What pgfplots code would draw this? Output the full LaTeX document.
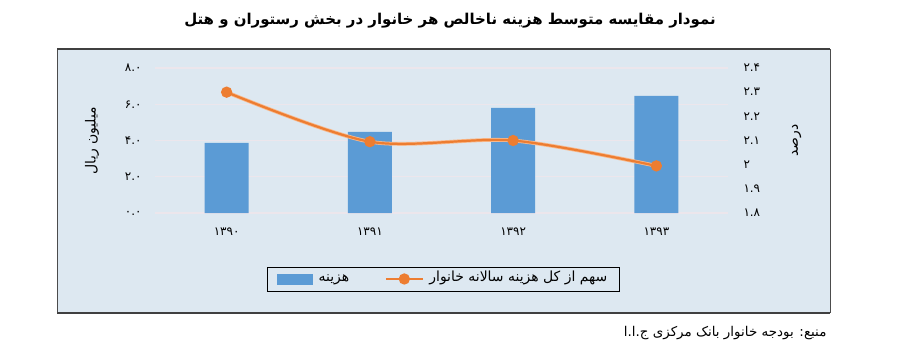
\documentclass[border=0pt]{standalone}
\usepackage{pgfplots}
\pgfplotsset{compat=1.18}
\usepackage{fontspec}
\setmainfont{DejaVu Sans}
\TeXXeTstate=1
\newfontfamily\arabicfont[Script=Arabic]{DejaVu Sans}
\definecolor{panel}{RGB}{221,232,241}
\definecolor{barblue}{RGB}{91,155,213}
\definecolor{lineor}{RGB}{237,125,49}
\definecolor{lineorl}{RGB}{248,185,140}
\definecolor{gridc}{RGB}{236,230,236}
\pgfplotsset{mylinelegend/.style={legend image code/.code={\draw[mark repeat=2,mark phase=2,##1] plot coordinates {(0bp,0bp)(18bp,0bp)(36bp,0bp)};}}}
\begin{document}
\begin{tikzpicture}
\path[use as bounding box] (0bp,0bp) rectangle (900bp,-351bp);
\fill[panel] (57bp,-49bp) rectangle (830bp,-313bp);
\draw[black!70, line width=0.8bp] (57bp,-49bp) -- (57bp,-313bp);
\draw[black!70, line width=0.8bp] (830bp,-49bp) -- (830bp,-313bp);
\draw[black!75, line width=1.5bp] (57bp,-49bp) -- (830bp,-49bp);
\draw[black!75, line width=1.5bp] (57bp,-313bp) -- (830bp,-313bp);
\node[font=\arabicfont\bfseries\fontsize{15}{17}\selectfont] at (450bp,-21bp) {\beginR نمودار مقایسه متوسط هزینه ناخالص هر خانوار در بخش رستوران و هتل\endR};
\node[anchor=east, font=\arabicfont\fontsize{13.5}{15}\selectfont] at (830bp,-333bp) {\beginR منبع: بودجه خانوار بانک مرکزی ج.ا.ا\endR};
\begin{axis}[
  at={(155bp,-213bp)}, anchor=south west,
  scale only axis, width=573bp, height=145bp,
  xmin=-0.5, xmax=3.5, ymin=0, ymax=8,
  axis line style={draw=none},
  ytick={0,2,4,6,8}, yticklabels={۰.۰,۲.۰,۴.۰,۶.۰,۸.۰},
  xtick={0,1,2,3}, xticklabels={۱۳۹۰,۱۳۹۱,۱۳۹۲,۱۳۹۳},
  major tick length=0pt,
  ymajorgrids, grid style={gridc, line width=1.2bp},
  ticklabel style={font=\arabicfont\fontsize{12}{14}\selectfont},
  yticklabel style={xshift=-10bp},
  xticklabel style={yshift=-11bp},
  ylabel={\beginR میلیون ریال\endR},
  ylabel style={at={(axis description cs:-0.11,0.5)}, anchor=center, font=\arabicfont\fontsize{14}{16}\selectfont},
  ybar, bar width=44bp,
]
\addplot[fill=barblue, draw=none] coordinates {(0,3.87)(1,4.47)(2,5.80)(3,6.46)};
\end{axis}
\begin{axis}[
  at={(155bp,-213bp)}, anchor=south west,
  scale only axis, width=573bp, height=145bp,
  xmin=-0.5, xmax=3.5, ymin=1.8, ymax=2.4,
  axis line style={draw=none},
  yticklabel pos=right,
  ytick={1.8,1.9,2.0,2.1,2.2,2.3,2.4}, yticklabels={۱.۸,۱.۹,۲,۲.۱,۲.۲,۲.۳,۲.۴},
  xtick=\empty,
  major tick length=0pt,
  ticklabel style={font=\arabicfont\fontsize{12}{14}\selectfont},
  yticklabel style={xshift=12bp},
  ylabel={\beginR درصد\endR},
  ylabel style={at={(axis description cs:1.12,0.5)}, anchor=center, font=\arabicfont\fontsize{14}{16}\selectfont},
  legend columns=2,
  legend style={at={(0.503,-0.455)}, anchor=center, draw=black, fill=panel, font=\arabicfont\fontsize{14}{16}\selectfont, inner xsep=10bp, inner ysep=3bp,
    nodes={text height=10bp, text depth=4bp},
    /tikz/every odd column/.append style={column sep=4bp},
    /tikz/every even column/.append style={column sep=34bp}},
]
\addlegendimage{legend image code/.code={\fill[barblue] (0bp,-5bp) rectangle (35bp,5bp);}}
\addlegendentry{\beginR هزینه\endR}
\addplot[forget plot, smooth, tension=0.5, lineorl, line width=3.8bp] coordinates {(0,2.30)(1,2.095)(2,2.10)(3,1.995)};
\addplot[smooth, tension=0.5, lineor, line width=2.2bp, mark=*, mark size=4.5bp, mark options={fill=lineor, draw=lineor}, mylinelegend] coordinates {(0,2.30)(1,2.095)(2,2.10)(3,1.995)};
\addlegendentry{\beginR سهم از کل هزینه سالانه خانوار\endR}
\end{axis}
\end{tikzpicture}
\end{document}
